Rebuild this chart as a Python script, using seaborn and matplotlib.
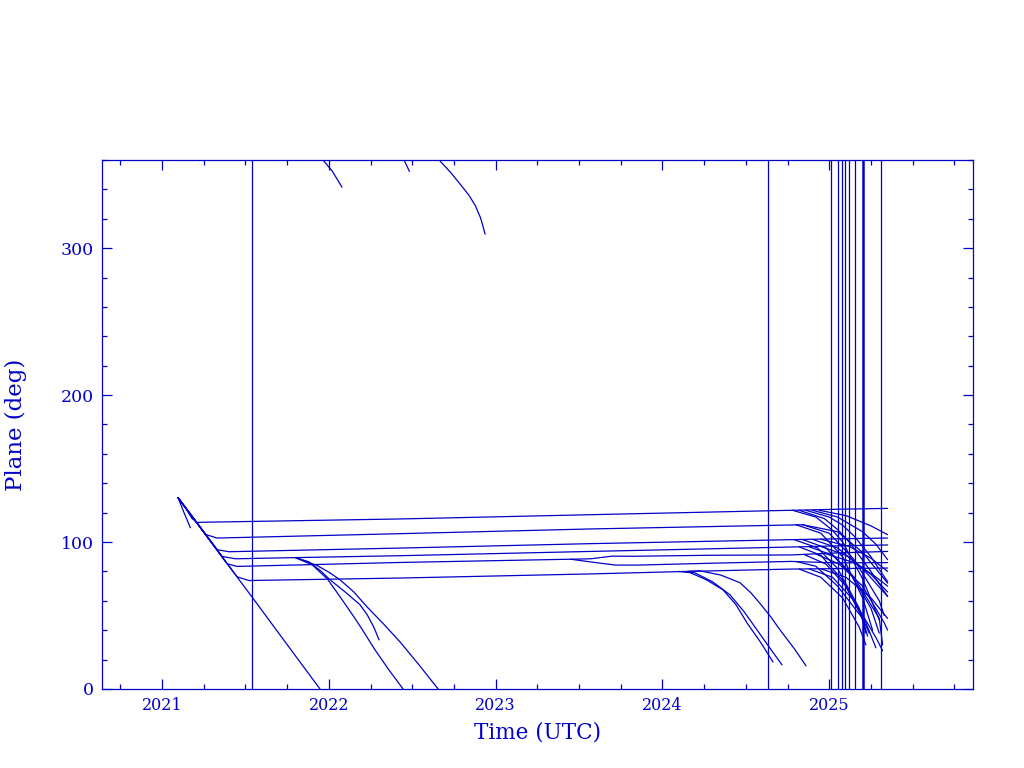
import pandas as pd
import seaborn as sns
import matplotlib.pyplot as plt
from matplotlib.ticker import MultipleLocator

BLUE = '#0000c8'

# orbital plane tracks, (decimal year, plane deg)
trunk = [(2021.096, 130.2), (2021.30, 99.0), (2021.54, 62.5), (2021.75, 30.2), (2021.947, 0.0)]
spur = [(2021.096, 130.2), (2021.130, 120.5), (2021.170, 109.7)]

plane_a = [(2021.096, 130.2), (2021.15, 121.5), (2021.18, 116.0), (2021.21, 113.4),
           (2022.43, 115.7), (2023.57, 118.6), (2024.77, 121.6), (2025.05, 122.3), (2025.35, 122.9)]
plane_b = [(2021.096, 130.2), (2021.18, 117.3), (2021.26, 105.2), (2021.33, 102.7), (2021.40, 102.9),
           (2022.43, 105.7), (2023.57, 108.9), (2024.77, 111.6), (2024.84, 111.8)]
plane_c = [(2021.096, 130.2), (2021.20, 114.5), (2021.33, 94.8), (2021.40, 93.4),
           (2022.43, 95.9), (2023.57, 98.9), (2024.77, 101.6), (2025.05, 102.2), (2025.35, 102.7)]
plane_d = [(2021.096, 130.2), (2021.22, 111.5), (2021.36, 90.2), (2021.44, 88.6), (2021.80, 89.4),
           (2022.43, 90.7), (2023.57, 93.6), (2024.77, 96.6), (2025.05, 97.4), (2025.35, 98.0)]
plane_e = [(2021.096, 130.2), (2021.24, 108.3), (2021.39, 85.2), (2021.45, 83.4),
           (2022.43, 86.1), (2023.45, 88.3), (2023.57, 88.6), (2023.70, 90.4), (2023.82, 90.3),
           (2024.30, 91.0), (2024.77, 91.2), (2025.05, 92.6), (2025.35, 93.6)]
plane_e2 = [(2023.45, 88.3), (2023.58, 86.3), (2023.72, 84.3), (2023.85, 84.3),
            (2024.30, 85.6), (2024.77, 86.8), (2025.05, 85.8), (2025.35, 86.0)]
plane_f = [(2021.096, 130.2), (2021.28, 102.2), (2021.45, 76.3), (2021.52, 73.8),
           (2022.43, 75.5), (2023.57, 78.3), (2024.15, 80.0), (2024.77, 81.6), (2025.05, 81.9), (2025.35, 82.3)]

# 2022 decays
mid_1 = [(2021.80, 89.4), (2021.88, 86.5), (2021.95, 80.5), (2022.007, 74.3), (2022.10, 65.8),
         (2022.187, 57.3), (2022.23, 50.5), (2022.27, 42.0), (2022.301, 33.4)]
mid_2 = [(2021.80, 89.4), (2021.90, 84.5), (2021.99, 75.0), (2022.05, 65.5), (2022.109, 55.9),
         (2022.16, 47.5), (2022.20, 40.5), (2022.277, 26.6), (2022.36, 13.0), (2022.445, 0.0)]
mid_3 = [(2021.80, 89.4), (2021.93, 84.0), (2022.00, 79.5), (2022.067, 74.3), (2022.15, 66.0),
         (2022.229, 55.9), (2022.33, 44.0), (2022.427, 32.0), (2022.54, 16.5), (2022.655, 0.0)]

# wrapped segments near 360 deg
top_1 = [(2021.965, 360.0), (2022.02, 352.5), (2022.079, 341.5)]
top_2 = [(2022.451, 360.0), (2022.483, 352.2)]
top_3 = [(2022.661, 360.0), (2022.73, 351.5), (2022.787, 343.6), (2022.84, 336.0),
         (2022.877, 329.2), (2022.91, 320.5), (2022.937, 309.5)]

# 2024 decays
late_1 = [(2024.10, 80.0), (2024.165, 79.2), (2024.26, 74.5), (2024.363, 67.5), (2024.44, 57.5),
          (2024.507, 45.0), (2024.59, 31.5), (2024.663, 18.4)]
late_2 = [(2024.12, 80.0), (2024.195, 79.0), (2024.30, 73.0), (2024.405, 64.1), (2024.49, 52.5),
          (2024.567, 40.2), (2024.64, 28.5), (2024.717, 16.4)]
late_3 = [(2024.15, 80.0), (2024.225, 80.4), (2024.35, 77.5), (2024.465, 72.3), (2024.53, 65.5),
          (2024.59, 57.5), (2024.65, 49.0), (2024.705, 40.2), (2024.79, 27.5), (2024.861, 15.7)]

# 2025 fan of decays off each plane
fan_a1 = [(2024.78, 121.6), (2024.92, 117.0), (2025.02, 108.0), (2025.08, 100.0), (2025.20, 75.0), (2025.30, 47.0)]
fan_a2 = [(2024.82, 121.6), (2024.97, 116.0), (2025.05, 108.5), (2025.12, 100.0), (2025.25, 80.0), (2025.35, 63.0)]
fan_a3 = [(2024.86, 121.6), (2025.00, 117.0), (2025.08, 111.5), (2025.15, 104.0), (2025.25, 90.0), (2025.35, 73.0)]
fan_a4 = [(2024.90, 121.6), (2025.05, 117.0), (2025.20, 107.0), (2025.28, 98.5), (2025.35, 88.0)]
fan_a5 = [(2024.94, 121.6), (2025.10, 118.0), (2025.25, 111.0), (2025.35, 105.0)]
fan_b1 = [(2024.80, 111.8), (2024.95, 106.0), (2025.08, 90.0), (2025.20, 62.0), (2025.26, 40.0)]
fan_b2 = [(2024.84, 111.8), (2025.00, 106.0), (2025.15, 88.0), (2025.30, 60.0), (2025.33, 50.0)]
fan_b3 = [(2024.84, 111.8), (2025.05, 107.0), (2025.20, 93.0), (2025.35, 72.0)]
fan_c1 = [(2024.79, 101.6), (2024.93, 96.0), (2025.05, 82.0), (2025.18, 55.0), (2025.22, 38.0)]
fan_c2 = [(2024.84, 101.7), (2024.98, 96.0), (2025.12, 80.0), (2025.25, 55.0), (2025.30, 38.0)]
fan_c3 = [(2024.90, 101.8), (2025.05, 96.0), (2025.20, 82.0), (2025.35, 63.0)]
fan_c4 = [(2024.95, 101.9), (2025.12, 97.0), (2025.25, 89.0), (2025.35, 80.0)]
fan_d1 = [(2024.82, 96.7), (2024.95, 91.0), (2025.08, 74.0), (2025.20, 48.0), (2025.23, 36.0)]
fan_d2 = [(2024.88, 96.8), (2025.02, 91.0), (2025.15, 76.0), (2025.30, 48.0), (2025.32, 30.0)]
fan_d3 = [(2024.95, 97.0), (2025.10, 91.0), (2025.25, 78.0), (2025.35, 66.0)]
fan_e1 = [(2024.85, 91.5), (2024.98, 85.0), (2025.10, 70.0), (2025.22, 45.0), (2025.28, 28.0)]
fan_e2 = [(2024.92, 91.8), (2025.06, 85.0), (2025.20, 70.0), (2025.33, 45.0), (2025.35, 40.0)]
fan_e3 = [(2024.98, 92.0), (2025.15, 86.0), (2025.27, 77.0), (2025.35, 70.0)]
fan_e4 = [(2024.80, 86.8), (2024.92, 83.5), (2025.05, 70.0), (2025.20, 48.0), (2025.24, 38.0)]
fan_f1 = [(2024.82, 81.6), (2024.95, 76.0), (2025.08, 62.0), (2025.18, 42.0), (2025.22, 30.0)]
fan_f2 = [(2024.88, 81.7), (2025.02, 76.0), (2025.15, 60.0), (2025.28, 35.0), (2025.32, 26.0)]
fan_f3 = [(2024.95, 81.8), (2025.10, 76.0), (2025.25, 62.0), (2025.35, 48.0)]

# event markers (vertical lines)
events = [2021.540, 2024.633, 2025.009, 2025.051, 2025.076, 2025.094, 2025.118, 2025.155, 2025.313]
event_thick = [2025.201]

tracks = {
    'trunk': trunk, 'spur': spur,
    'a': plane_a, 'b': plane_b, 'c': plane_c, 'd': plane_d, 'e': plane_e, 'e2': plane_e2, 'f': plane_f,
    'm1': mid_1, 'm2': mid_2, 'm3': mid_3,
    't1': top_1, 't2': top_2, 't3': top_3,
    'l1': late_1, 'l2': late_2, 'l3': late_3,
    'fa1': fan_a1, 'fa2': fan_a2, 'fa3': fan_a3, 'fa4': fan_a4, 'fa5': fan_a5,
    'fb1': fan_b1, 'fb2': fan_b2, 'fb3': fan_b3,
    'fc1': fan_c1, 'fc2': fan_c2, 'fc3': fan_c3, 'fc4': fan_c4,
    'fd1': fan_d1, 'fd2': fan_d2, 'fd3': fan_d3,
    'fe1': fan_e1, 'fe2': fan_e2, 'fe3': fan_e3, 'fe4': fan_e4,
    'ff1': fan_f1, 'ff2': fan_f2, 'ff3': fan_f3,
}
rows = [(name, t, d) for name, pts in tracks.items() for t, d in pts]
df = pd.DataFrame(rows, columns=['track', 'year', 'deg'])

sns.set_style('ticks')
plt.rcParams['font.family'] = ['DejaVu Serif']

fig = plt.figure(figsize=(10.24, 7.68), dpi=100)
ax = fig.add_axes([0.0996, 0.1029, 0.8506, 0.6888])

sns.lineplot(data=df, x='year', y='deg', units='track', estimator=None, sort=False,
             color=BLUE, lw=0.9, ax=ax)
for t in events:
    ax.axvline(t, color=BLUE, lw=0.9)
for t in event_thick:
    ax.axvline(t, color=BLUE, lw=1.8)

ax.set_xlim(2020.640, 2025.862)
ax.set_ylim(0, 360)
ax.xaxis.set_major_locator(MultipleLocator(1))
ax.xaxis.set_minor_locator(MultipleLocator(0.25))
ax.yaxis.set_major_locator(MultipleLocator(100))
ax.yaxis.set_minor_locator(MultipleLocator(20))
ax.xaxis.set_major_formatter(plt.FuncFormatter(lambda v, p: f'{v:.0f}'))

ax.tick_params(which='both', direction='in', top=True, right=True, colors=BLUE,
               labelcolor=BLUE, width=0.9)
ax.tick_params(axis='x', labelsize=11.5)
ax.tick_params(axis='y', labelsize=12.5)
ax.tick_params(which='major', length=7.5, pad=6)
ax.tick_params(which='minor', length=3.8)
for s in ax.spines.values():
    s.set_color(BLUE)
    s.set_linewidth(0.9)

ax.set_xlabel('Time (UTC)', color=BLUE, fontsize=15.5, labelpad=5)
ax.set_ylabel('Plane (deg)', color=BLUE, fontsize=16.5, labelpad=24)

fig.savefig('out.png', dpi=100)
